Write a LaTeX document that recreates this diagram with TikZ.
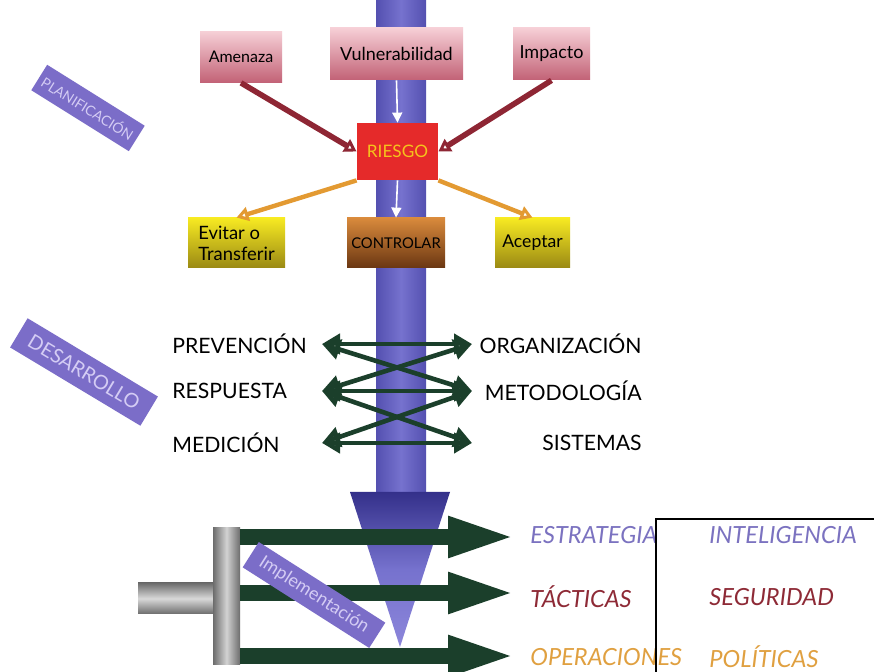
\documentclass[tikz,border=0pt]{standalone}
\usepackage{fontspec}
\setmainfont{Lato}
\usetikzlibrary{arrows.meta}

\definecolor{rosaA}{HTML}{F6CFD6}
\definecolor{rosaB}{HTML}{C26276}
\definecolor{amarA}{HTML}{F7EA22}
\definecolor{amarB}{HTML}{9A8914}
\definecolor{marrA}{HTML}{D98A3C}
\definecolor{marrB}{HTML}{6A3612}
\definecolor{rojo}{HTML}{E52A2A}
\definecolor{oro}{HTML}{F6C21C}
\definecolor{granate}{HTML}{8E2634}
\definecolor{naranja}{HTML}{E39A32}
\definecolor{verde}{HTML}{1B3F2B}
\definecolor{lila}{HTML}{7B6DC8}
\definecolor{lilaclaro}{HTML}{D4CCF4}
\definecolor{azulA}{HTML}{7672CE}
\definecolor{azulB}{HTML}{5450B0}
\definecolor{conoA}{HTML}{34308A}
\definecolor{conoB}{HTML}{8C86DA}
\definecolor{txtazul}{HTML}{7B72C0}
\definecolor{txtrojo}{HTML}{8E2A36}
\definecolor{txtoro}{HTML}{E0A040}

\tikzset{
  caja/.style={inner sep=1pt, align=center, text=black},
  rosa/.style={caja, top color=rosaA, bottom color=rosaB},
  amarilla/.style={caja, top color=amarA, bottom color=amarB},
  etiqueta/.style={fill=lila, text=lilaclaro, inner sep=0pt},
  flechaR/.style={granate, line width=2.8pt, -{Triangle[open,length=6pt,width=7pt]}},
  flechaN/.style={naranja, line width=2.2pt, -{Triangle[open,length=6pt,width=7pt]}},
  flechaB/.style={white, line width=0.8pt, -{Triangle[length=5pt,width=5pt]}},
  doble/.style={verde, line width=2.3pt, {Triangle[open,length=9pt,width=10pt]}-{Triangle[open,length=9pt,width=10pt]}},
  gruesa/.style={verde, line width=8pt, -{Triangle[length=34pt,width=18.5pt]}},
  item/.style={inner sep=0pt, font=\fontsize{10.6}{12}\selectfont},
  nivel/.style={inner sep=0pt, font=\fontsize{11.8}{13}\selectfont\itshape}
}

\begin{document}
\begin{tikzpicture}[x=0.5pt,y=-0.5pt]
\useasboundingbox (0,0) rectangle (874,672);
\fill[white] (0,0) rectangle (874,672);

% eje central
\shade[left color=azulB, right color=azulB, middle color=azulA] (376,0) rectangle (426,493);
\shade[top color=conoA, bottom color=conoB, middle color=azulA] (350,492) -- (450,492) -- (400,647) -- cycle;

% planificacion
\node[rosa, minimum width=41pt, minimum height=25.5pt, font=\fontsize{8}{9}\selectfont] (amenaza) at (241,57) {Amenaza};
\node[rosa, minimum width=66.5pt, minimum height=26pt, font=\fontsize{9}{10}\selectfont] (vulner) at (396.5,54) {Vulnerabilidad};
\node[rosa, minimum width=38.5pt, minimum height=26pt, font=\fontsize{9}{10}\selectfont] (impacto) at (551.5,54) {Impacto};
\node[caja, fill=rojo, text=oro, minimum width=40.5pt, minimum height=28.5pt, font=\fontsize{8.6}{10}\selectfont] (riesgo) at (397.5,151.5) {RIESGO};
\node[amarilla, minimum width=48.5pt, minimum height=25pt, font=\fontsize{9.2}{10.5}\selectfont, align=left] (evitar) at (236.5,243) {Evitar o\\Transferir};
\node[caja, top color=marrA, bottom color=marrB, minimum width=49pt, minimum height=25pt, font=\fontsize{7.4}{9}\selectfont] (controlar) at (396,243) {CONTROLAR};
\node[amarilla, minimum width=37.5pt, minimum height=25pt, font=\fontsize{8.8}{10}\selectfont] (aceptar) at (532.5,243) {Aceptar};

\draw[flechaR] (amenaza.south) -- (riesgo.west);
\draw[flechaR] (impacto.south) -- (riesgo.east);
\draw[flechaB] (vulner.south) -- (riesgo.north);
\draw[flechaB] (riesgo.south) -- (controlar.north);
\draw[flechaN] (riesgo.south west) -- (evitar.north);
\draw[flechaN] (riesgo.south east) -- (aceptar.north);

\node[etiqueta, rotate=-32, minimum width=57.5pt, minimum height=15pt, font=\fontsize{7}{8}\selectfont] (planif) at (88,108) {PLANIFICACIÓN};

% desarrollo
\node[etiqueta, rotate=-31, minimum width=76pt, minimum height=17pt, font=\fontsize{9.9}{11}\selectfont] (desarr) at (84,372) {DESARROLLO};

\node[item, anchor=west] (prev) at (172,344) {PREVENCIÓN};
\node[item, anchor=west] (resp) at (172,391) {RESPUESTA};
\node[item, anchor=west] (medi) at (172,443) {MEDICIÓN};
\node[item, anchor=east] (orga) at (642,344) {ORGANIZACIÓN};
\node[item, anchor=east] (meto) at (642,391) {METODOLOGÍA};
\node[item, anchor=east] (sist) at (642,443) {SISTEMAS};

\coordinate (iz1) at (322,344); \coordinate (de1) at (472,344);
\coordinate (iz2) at (322,391); \coordinate (de2) at (472,391);
\coordinate (iz3) at (322,443); \coordinate (de3) at (472,443);

\draw[doble] (iz1) -- (de1); % prevencion - organizacion
\draw[doble] (iz2) -- (de2); % respuesta - metodologia
\draw[doble] (iz3) -- (de3); % medicion - sistemas
\draw[doble] (iz1) -- (de2);
\draw[doble] (iz2) -- (de1);
\draw[doble] (iz2) -- (de3);
\draw[doble] (iz3) -- (de2);

% implementacion
\shade[top color=gray!85!black, bottom color=gray!85!black, middle color=gray!30] (138,583) rectangle (213,614);
\shade[left color=gray!85!black, right color=gray!85!black, middle color=gray!35] (213,528) rectangle (240,665);

\coordinate (ba1) at (240,537); \coordinate (pu1) at (516,537);
\coordinate (ba2) at (240,593); \coordinate (pu2) at (516,593);
\coordinate (ba3) at (240,656); \coordinate (pu3) at (516,656);
\draw[gruesa] (ba1) -- (pu1);
\draw[gruesa] (ba2) -- (pu2);
\draw[gruesa] (ba3) -- (pu3);

\node[etiqueta, rotate=-32.5, minimum width=75pt, minimum height=15pt, font=\fontsize{9}{10}\selectfont] (impl) at (314,595) {Implementación};

\node[nivel, anchor=west, text=txtazul] (estr) at (530,535) {ESTRATEGIA};
\node[nivel, anchor=west, text=txtazul] (inte) at (709,535) {INTELIGENCIA};
\node[nivel, anchor=west, text=txtrojo] (tact) at (530,597) {TÁCTICAS};
\node[nivel, anchor=west, text=txtrojo] (segu) at (709,597) {SEGURIDAD};
\node[nivel, anchor=west, text=txtoro] (oper) at (530,657) {OPERACIONES};
\node[nivel, anchor=west, text=txtoro] (poli) at (709,657) {POLÍTICAS};

\draw[line width=1pt] (656,672) -- (656,519) -- (874,519);
\end{tikzpicture}
\end{document}
